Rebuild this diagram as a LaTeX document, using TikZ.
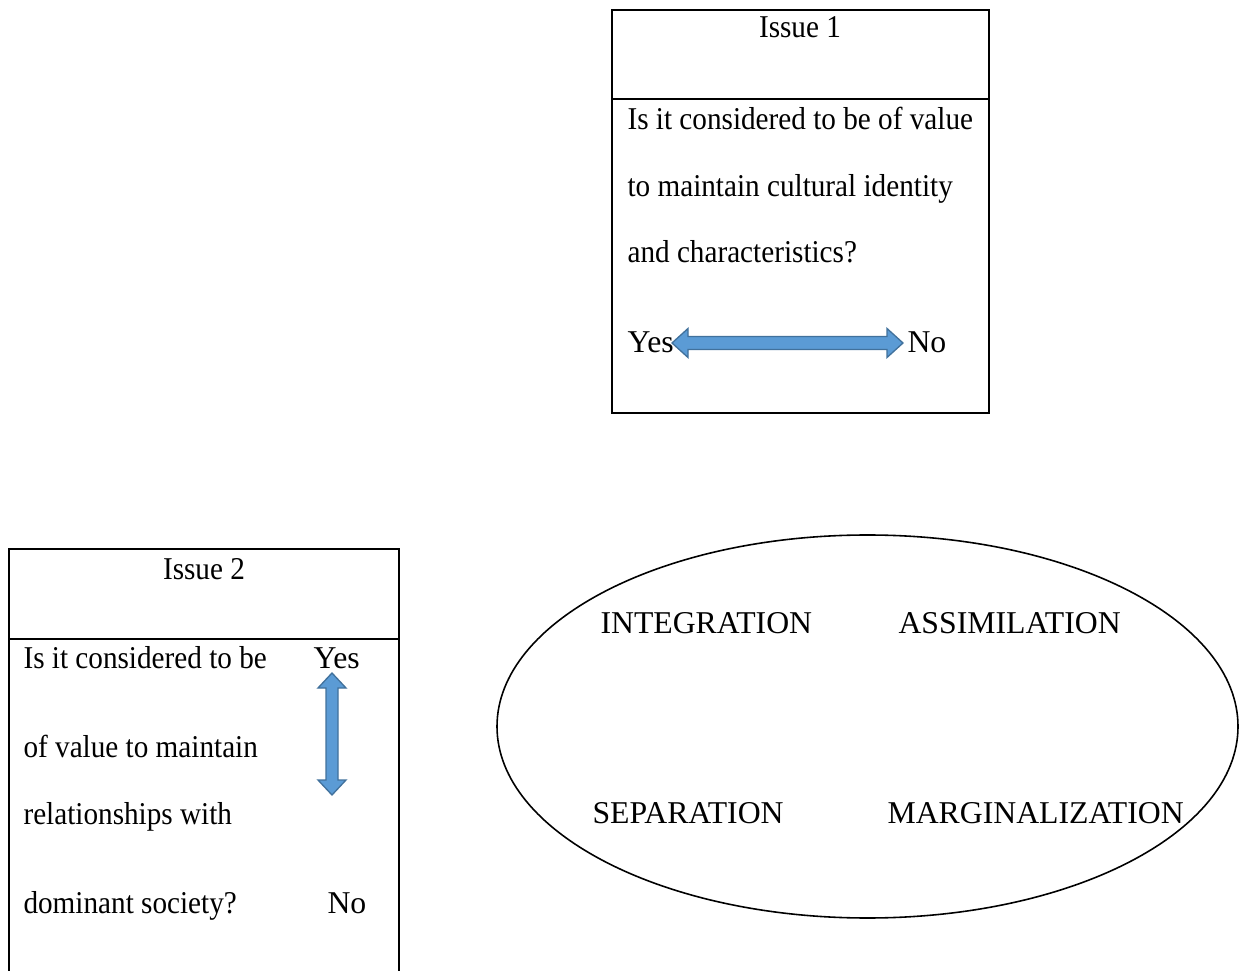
\documentclass[tikz,border=0pt]{standalone}
\usepackage{fontspec}
\setmainfont{Liberation Serif}
\newfontfamily\narrowfont[FakeStretch=0.92]{Liberation Serif}
\definecolor{ArrowFill}{RGB}{91,155,213}
\definecolor{ArrowEdge}{RGB}{65,113,156}
\tikzset{
  txt/.style={inner sep=0pt,font=\fontsize{12}{14}\selectfont},
  boxtxt/.style={inner sep=0pt,font=\narrowfont\fontsize{12}{14}\selectfont},
  blockarrow/.style={fill=ArrowFill,draw=ArrowEdge,line width=0.5pt,line join=miter}
}

\begin{document}
\begin{tikzpicture}[x=0.378pt,y=-0.378pt]
\useasboundingbox (0,0) rectangle (1239,971);
% Issue 1 box
\draw[line width=0.75pt] (612,10) rectangle (989,413);
\draw[line width=0.75pt] (612,99) -- (989,99);
\node[boxtxt,anchor=base] (issueone) at (800,38) {Issue 1};
\node[boxtxt,anchor=base west] (qonea) at (627,130) {Is it considered to be of value};
\node[boxtxt,anchor=base west] (qoneb) at (627,197) {to maintain cultural identity};
\node[boxtxt,anchor=base west] (qonec) at (627,263) {and characteristics?};
\node[txt,anchor=base west] (yesone) at (627,353) {Yes};
\node[txt,anchor=base west] (noone) at (907,353) {No};
% horizontal block arrow
\filldraw[blockarrow] (672,343) -- (688,328.5) -- (688,336.5) -- (887,336.5) -- (887,328.5)
  -- (903,343) -- (887,357.5) -- (887,349.5) -- (688,349.5) -- (688,357.5) -- cycle;
% Issue 2 box (runs off the bottom)
\draw[line width=0.75pt] (9,985) -- (9,549) -- (399,549) -- (399,985);
\draw[line width=0.75pt] (9,639) -- (399,639);
\node[boxtxt,anchor=base] (issuetwo) at (204,579) {Issue 2};
\node[boxtxt,anchor=base west] (qtwoa) at (23,668) {Is it considered to be};
\node[boxtxt,anchor=base west] (qtwob) at (23,757) {of value to maintain};
\node[boxtxt,anchor=base west] (qtwoc) at (23,824) {relationships with};
\node[boxtxt,anchor=base west] (qtwod) at (23,913) {dominant society?};
\node[txt,anchor=base west] (yestwo) at (313,668) {Yes};
\node[txt,anchor=base west] (notwo) at (327,913) {No};
% vertical block arrow
\filldraw[blockarrow] (332,673) -- (346,688) -- (338,688) -- (338,780) -- (346,780)
  -- (332,795) -- (318,780) -- (326,780) -- (326,688) -- (318,688) -- cycle;
% strategies
\draw[line width=0.6pt] (867.5,726.5) ellipse [x radius=370.5,y radius=191.5];
\node[txt,anchor=base west] (integ) at (600,634) {INTEGRATION};
\node[txt,anchor=base west] (assim) at (898,634) {ASSIMILATION};
\node[txt,anchor=base west] (separ) at (592,823) {SEPARATION};
\node[txt,anchor=base west] (margi) at (887,823) {MARGINALIZATION};
\end{tikzpicture}
\end{document}
